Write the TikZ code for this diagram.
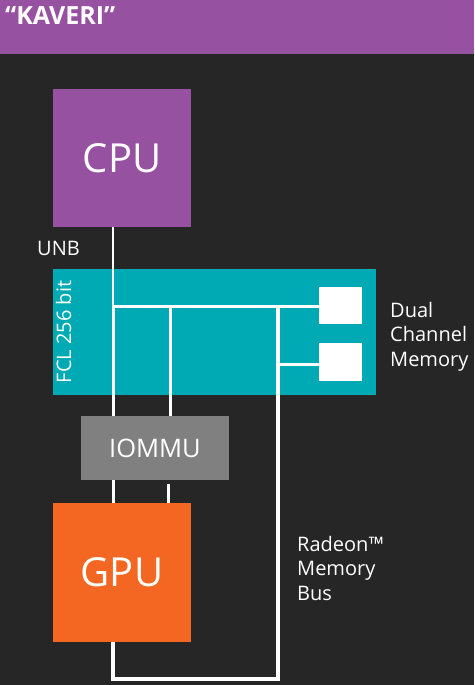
\documentclass[tikz,border=0pt]{standalone}
\usepackage{fontspec}
\setmainfont{Open Sans}
\definecolor{bg}{HTML}{262626}
\definecolor{kpurple}{HTML}{9751A1}
\definecolor{kteal}{HTML}{00AAB5}
\definecolor{korange}{HTML}{F36722}
\definecolor{kgray}{HTML}{808080}
\tikzset{
  blk/.style={rectangle, inner sep=0pt, text=white},
  wire/.style={draw=white, line width=3pt},
  lbl/.style={text=white, inner sep=0pt, align=left, font=\fontsize{20}{24.5}\selectfont},
}
\begin{document}
\begin{tikzpicture}[x=1pt,y=-1pt]
\useasboundingbox (0,0) rectangle (474,685);
\fill[bg] (0,0) rectangle (474,685);
\fill[kpurple] (0,0) rectangle (474,54);
\node[text=white, inner sep=0pt, anchor=base west, font=\fontsize{25}{30}\selectfont\bfseries] (title) at (5,25) {“KAVERI”};

\node[blk, fill=kteal, minimum width=323pt, minimum height=126pt] (fcl) at (214.5,332) {};
\node[text=white, inner sep=0pt, rotate=90, font=\fontsize{20}{24}\selectfont] (fcltxt) at (63.5,332) {FCL 256 bit};

\coordinate (j1) at (113,306);
\coordinate (j2) at (170,306);
\coordinate (j3) at (278,306);
\coordinate (j4) at (278,364);
\coordinate (k) at (168,484);
\coordinate (b1) at (113,679);
\coordinate (b2) at (278,679);

\node[blk, fill=white, minimum width=43pt, minimum height=37pt] (mem1) at (340.5,305.5) {};
\node[blk, fill=white, minimum width=43pt, minimum height=38pt] (mem2) at (340.5,362) {};

\node[blk, fill=kpurple, minimum width=138pt, minimum height=138pt, font=\fontsize{40}{48}\selectfont] (cpu) at (122,158) {CPU};
\node[blk, fill=korange, minimum width=138pt, minimum height=139pt, font=\fontsize{40}{48}\selectfont] (gpu) at (122,572.5) {GPU};

\draw[wire, line width=2.5pt] (cpu.south -| j1) -- (j1);
\draw[wire] (j1) -- (gpu.north -| j1);
\draw[wire] (j1) -- (j1 -| mem1.west);
\draw[wire] (j2) -- (j2 |- 0,416);
\draw[wire] (k) -- (k |- gpu.north);
\draw[wire] (j4) -- (j4 -| mem2.west);
\draw[wire, line width=3.5pt, line join=miter] (gpu.south -| j1) -- (b1) -- (b2) -- (j3);

\node[blk, fill=kgray, minimum width=148pt, minimum height=64pt, font=\fontsize{25.5}{30}\selectfont] (iommu) at (155,448) {IOMMU};

\node[text=white, inner sep=0pt, anchor=base west, font=\fontsize{20}{24}\selectfont] (unb) at (37,255) {UNB};
\node[lbl, anchor=base west] (dcm) at (390,366) {Dual\\Channel\\Memory};
\node[lbl, anchor=base west] (rmb) at (297,600) {Radeon™\\Memory\\Bus};
\end{tikzpicture}
\end{document}
